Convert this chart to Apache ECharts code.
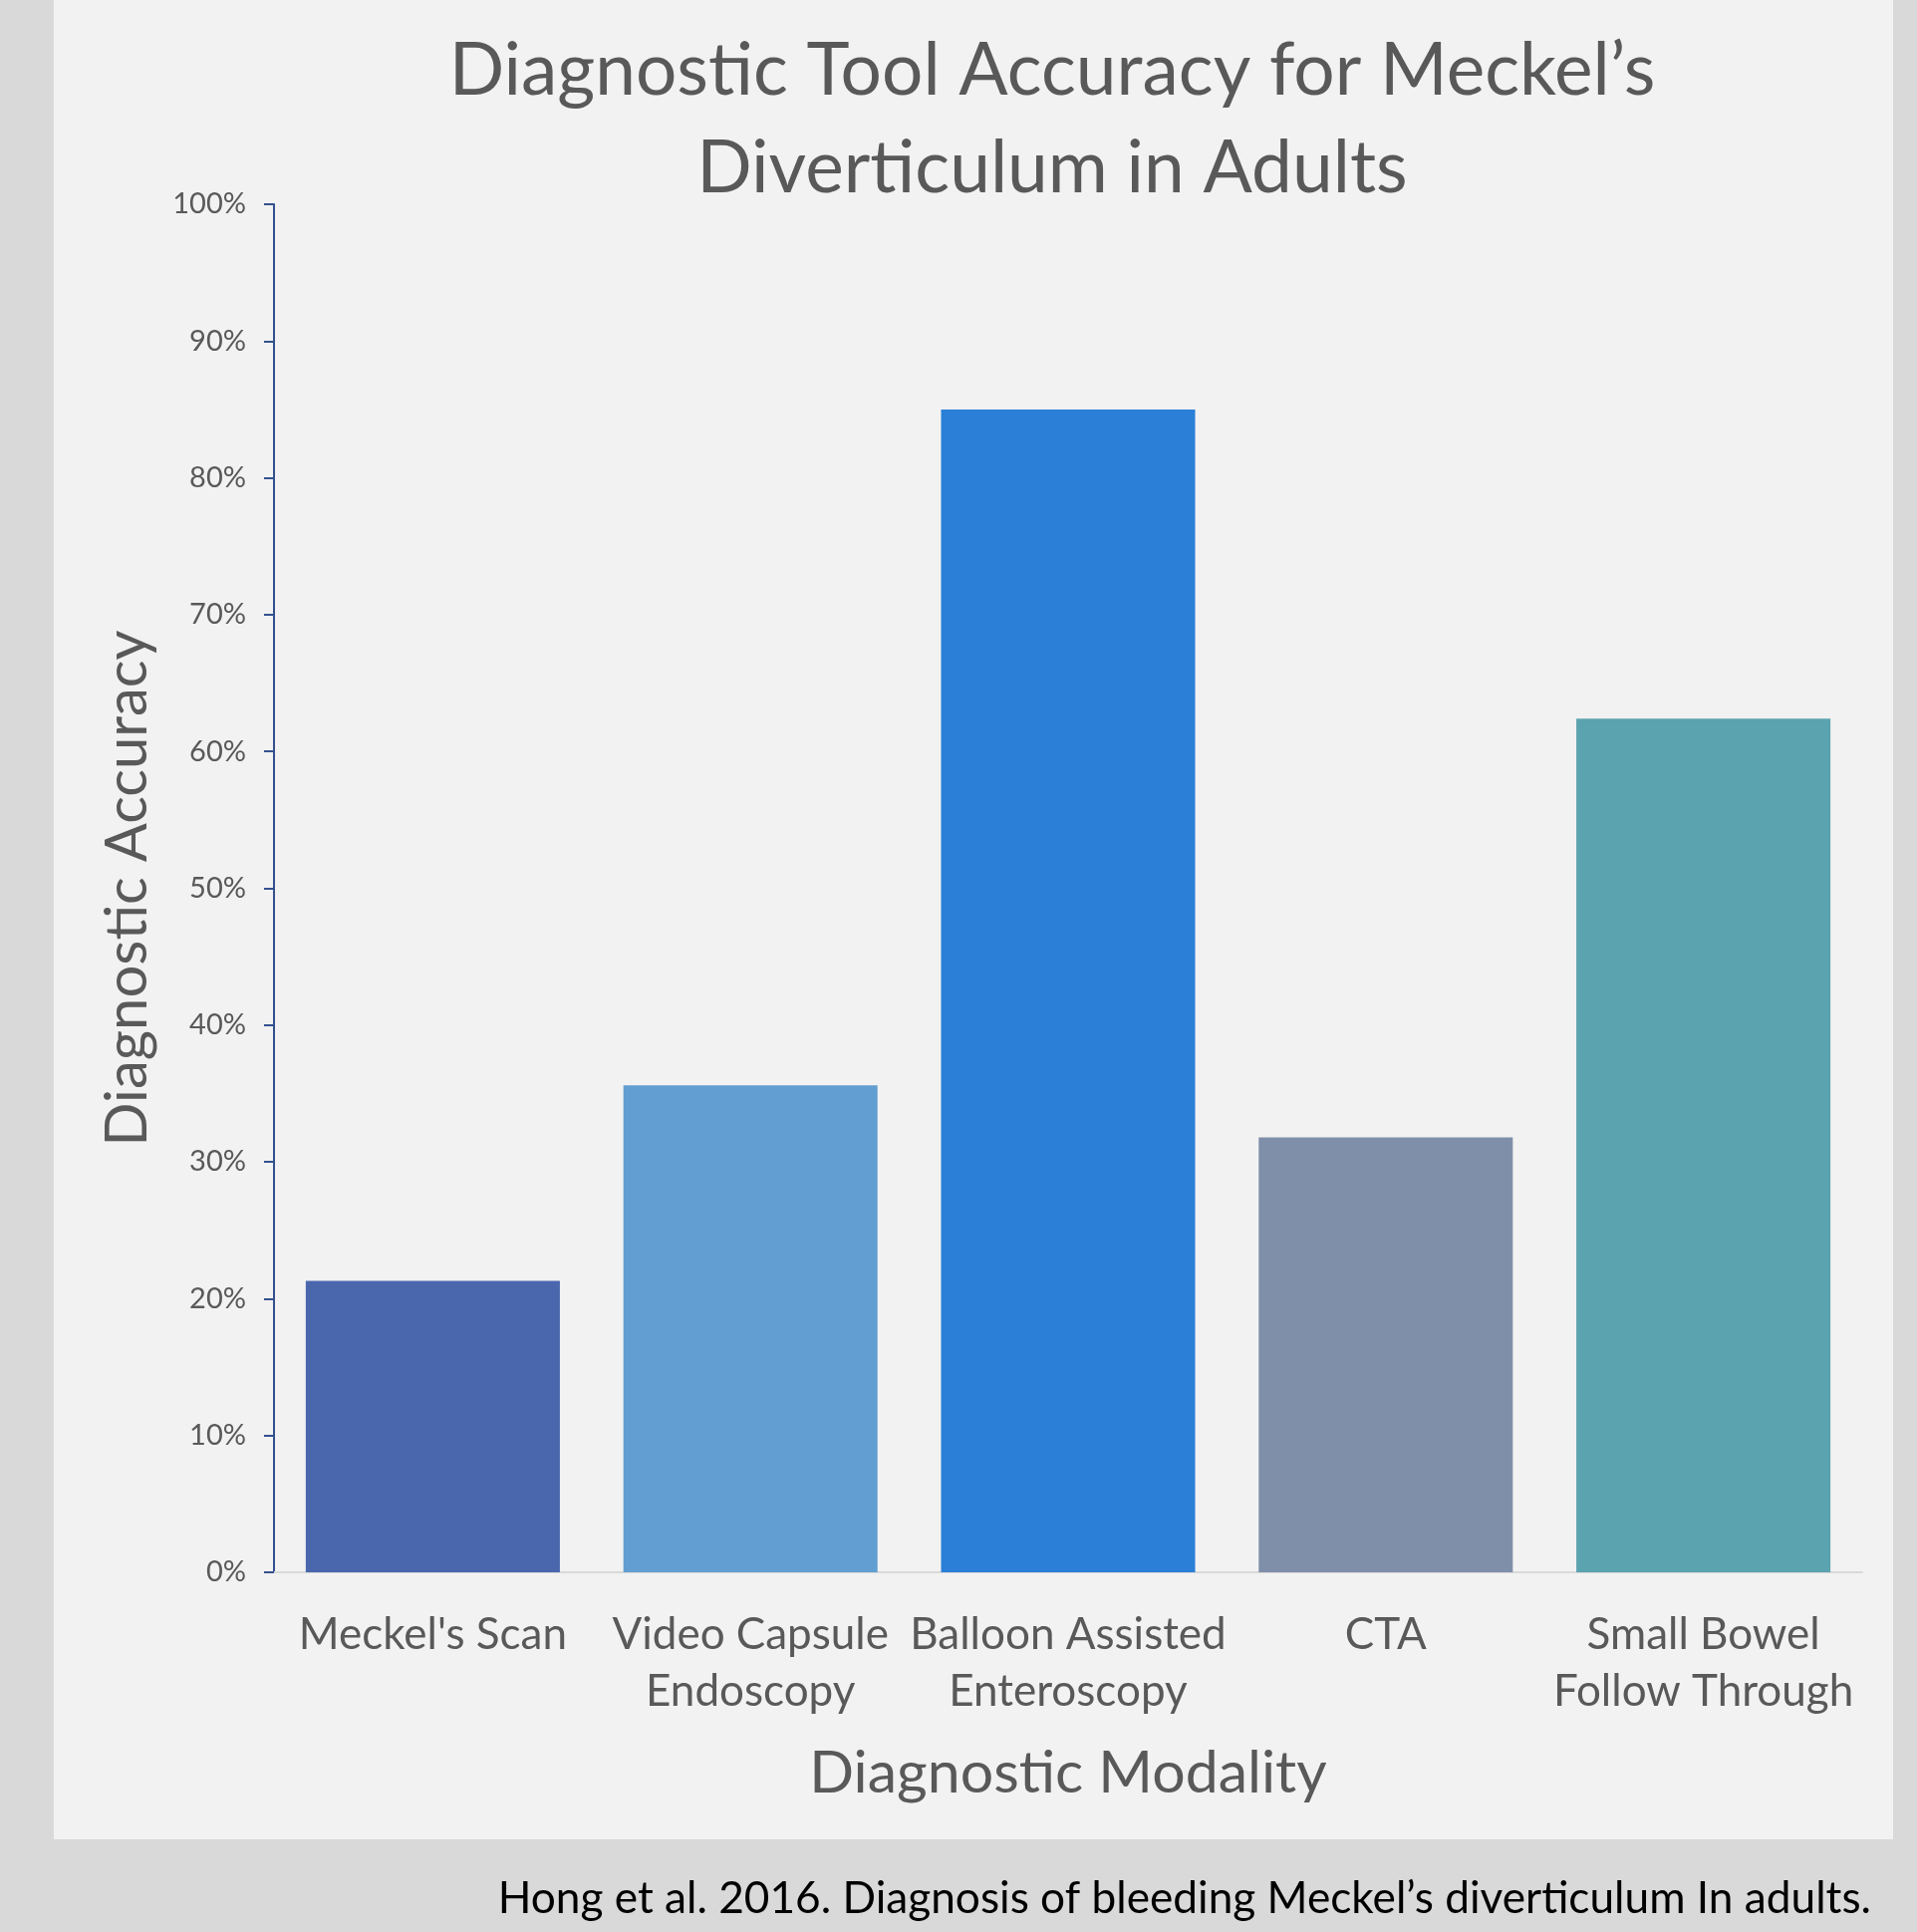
<!DOCTYPE html>
<html>
<head>
<meta charset="utf-8">
<title>Diagnostic Tool Accuracy for Meckel's Diverticulum in Adults</title>
<script src="https://cdn.jsdelivr.net/npm/echarts@6/dist/echarts.min.js"></script>
<style>
  html, body { margin: 0; padding: 0; background: #d9d9d9; }
  #chart { width: 1924px; height: 1939px; }
</style>
</head>
<body>
<div id="chart"></div>
<script>
// Diagnostic modalities (x axis) and their reported accuracy in percent
const categories = [
  "Meckel's Scan",
  "Video Capsule\nEndoscopy",
  "Balloon Assisted\nEnteroscopy",
  "CTA",
  "Small Bowel\nFollow Through"
];
const accuracy = [21.3, 35.6, 85.0, 31.8, 62.4];
const barColors = ['#4a67ae', '#629ed1', '#2b7fd6', '#7f8fa9', '#5ba3ae'];

const titleLines = ["Diagnostic Tool Accuracy for Meckel\u2019s", "Diverticulum in Adults"];
const yAxisName = 'Diagnostic Accuracy';
const xAxisName = 'Diagnostic Modality';
const sourceNote = 'Hong et al. 2016. Diagnosis of bleeding Meckel\u2019s diverticulum In adults.';

const FONT = 'Lato, "Open Sans", sans-serif';
const TEXT_GREY = '#595959';

const chart = echarts.init(document.getElementById('chart'), null, { renderer: 'canvas' });

chart.setOption({
  backgroundColor: '#d9d9d9',
  animation: false,
  title: {
    text: titleLines.join('\n'),
    left: 1051,
    top: 17,
    textAlign: 'center',
    textStyle: {
      fontFamily: FONT,
      fontSize: 73,
      fontWeight: 'normal',
      color: TEXT_GREY,
      lineHeight: 98
    }
  },
  graphic: [
    {
      type: 'rect',
      z: -10,
      silent: true,
      shape: { x: 54, y: 0, width: 1846, height: 1846 },
      style: { fill: '#f2f2f2' }
    },
    {
      type: 'text',
      right: 46,
      top: 1884,
      silent: true,
      style: {
        text: sourceNote,
        fontFamily: FONT,
        fontSize: 44.2,
        fill: '#000000'
      }
    }
  ],
  grid: {
    left: 275,
    right: 55,
    top: 205,
    bottom: 361,
    containLabel: false
  },
  xAxis: {
    type: 'category',
    data: categories,
    name: xAxisName,
    nameLocation: 'middle',
    nameGap: 172,
    nameTextStyle: {
      fontFamily: FONT,
      fontSize: 59,
      color: TEXT_GREY
    },
    axisLine: { show: true, lineStyle: { color: '#d9d9d9', width: 2 } },
    axisTick: { show: false },
    axisLabel: {
      interval: 0,
      margin: 34,
      fontFamily: FONT,
      fontSize: 44,
      lineHeight: 57,
      color: TEXT_GREY
    },
    splitLine: { show: false }
  },
  yAxis: {
    type: 'value',
    min: 0,
    max: 100,
    interval: 10,
    name: yAxisName,
    nameLocation: 'middle',
    nameGap: 118,
    nameRotate: 90,
    nameTextStyle: {
      fontFamily: FONT,
      fontSize: 58,
      color: TEXT_GREY
    },
    axisLine: { show: true, lineStyle: { color: '#34508f', width: 2 } },
    axisTick: { show: true, inside: false, length: 10, lineStyle: { color: '#34508f', width: 2 } },
    axisLabel: {
      margin: 28,
      fontFamily: FONT,
      fontSize: 29,
      color: TEXT_GREY,
      formatter: '{value}%'
    },
    splitLine: { show: false }
  },
  series: [
    {
      type: 'bar',
      data: accuracy.map((v, i) => ({ value: v, itemStyle: { color: barColors[i] } })),
      barCategoryGap: '20%',
      label: { show: false }
    }
  ]
});
</script>
</body>
</html>
